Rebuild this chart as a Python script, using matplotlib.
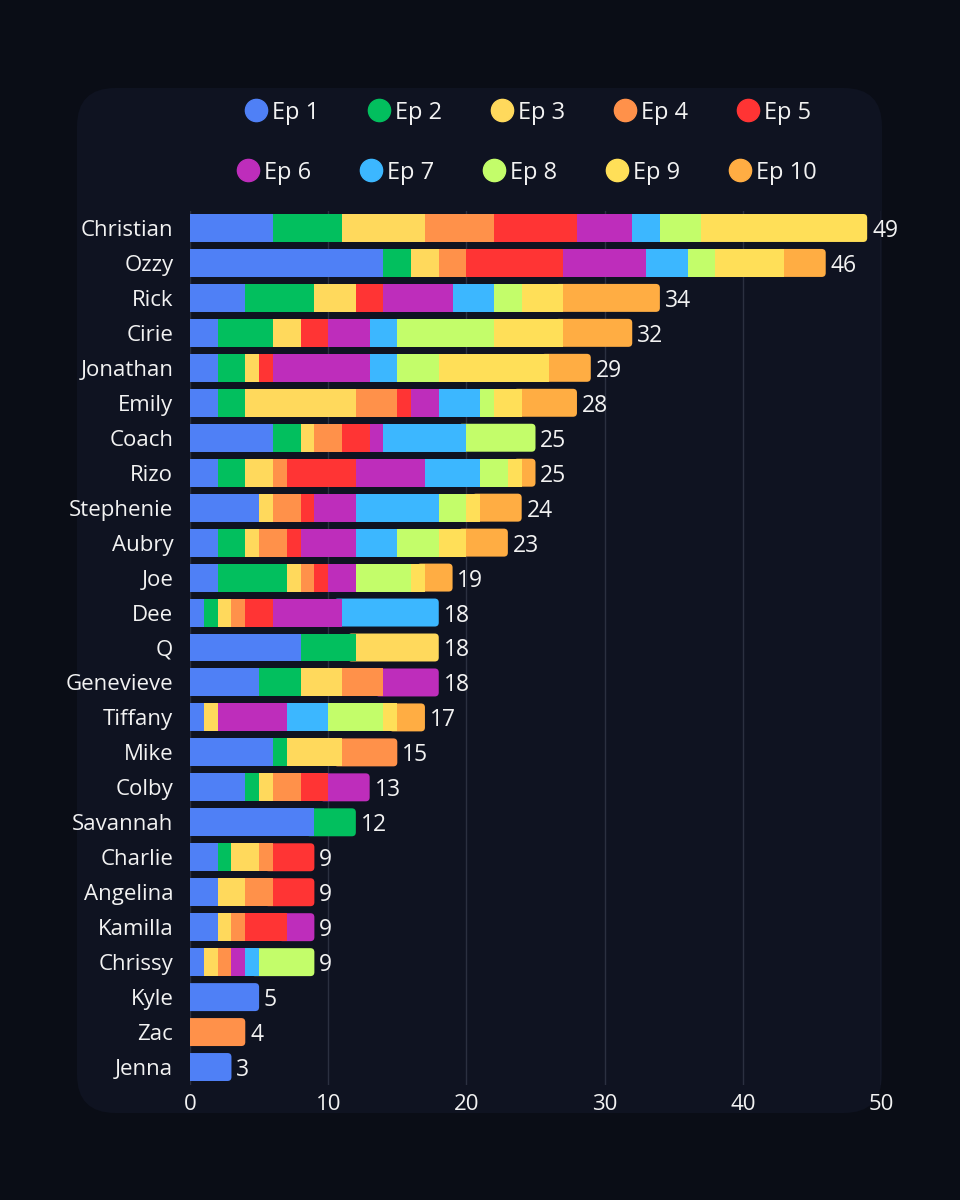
import matplotlib.pyplot as plt
import numpy as np
from matplotlib.patches import FancyBboxPatch
from matplotlib.lines import Line2D

players = ['Christian', 'Ozzy', 'Rick', 'Cirie', 'Jonathan', 'Emily', 'Coach', 'Rizo',
           'Stephenie', 'Aubry', 'Joe', 'Dee', 'Q', 'Genevieve', 'Tiffany', 'Mike',
           'Colby', 'Savannah', 'Charlie', 'Angelina', 'Kamilla', 'Chrissy', 'Kyle',
           'Zac', 'Jenna']

episodes = ['Ep 1', 'Ep 2', 'Ep 3', 'Ep 4', 'Ep 5', 'Ep 6', 'Ep 7', 'Ep 8', 'Ep 9', 'Ep 10']

ep1 = [6, 14, 4, 2, 2, 2, 6, 2, 5, 2, 2, 1, 8, 5, 1, 6, 4, 9, 2, 2, 2, 1, 5, 0, 3]
ep2 = [5, 2, 5, 4, 2, 2, 2, 2, 0, 2, 5, 1, 4, 3, 0, 1, 1, 3, 1, 0, 0, 0, 0, 0, 0]
ep3 = [6, 2, 3, 2, 1, 8, 1, 2, 1, 1, 1, 1, 6, 3, 1, 4, 1, 0, 2, 2, 1, 1, 0, 0, 0]
ep4 = [5, 2, 0, 0, 0, 3, 2, 1, 2, 2, 1, 1, 0, 3, 0, 4, 2, 0, 1, 2, 1, 1, 0, 4, 0]
ep5 = [6, 7, 2, 2, 1, 1, 2, 5, 1, 1, 1, 2, 0, 0, 0, 0, 2, 0, 3, 3, 3, 0, 0, 0, 0]
ep6 = [4, 6, 5, 3, 7, 2, 1, 5, 3, 4, 2, 5, 0, 4, 5, 0, 3, 0, 0, 0, 2, 1, 0, 0, 0]
ep7 = [2, 3, 3, 2, 2, 3, 6, 4, 6, 3, 0, 7, 0, 0, 3, 0, 0, 0, 0, 0, 0, 1, 0, 0, 0]
ep8 = [3, 2, 2, 7, 3, 1, 5, 2, 2, 3, 4, 0, 0, 0, 4, 0, 0, 0, 0, 0, 0, 4, 0, 0, 0]
ep9 = [12, 5, 3, 5, 8, 2, 0, 1, 1, 2, 1, 0, 0, 0, 1, 0, 0, 0, 0, 0, 0, 0, 0, 0, 0]
ep10 = [0, 3, 7, 5, 3, 4, 0, 1, 3, 3, 2, 0, 0, 0, 2, 0, 0, 0, 0, 0, 0, 0, 0, 0, 0]

colors = ['#4f80f6', '#02bf5e', '#ffd95c', '#ff914a', '#ff3434',
          '#be2dbb', '#3cb7ff', '#c3fd6a', '#ffdf58', '#ffad43']

series = [ep1, ep2, ep3, ep4, ep5, ep6, ep7, ep8, ep9, ep10]

BG = '#0a0d16'
PANEL = '#0f1321'
TXT = '#f2f2f2'

plt.rcParams['font.family'] = ['Open Sans', 'DejaVu Sans']

fig = plt.figure(figsize=(9.6, 12), dpi=100)
fig.patch.set_facecolor(BG)

# rounded panel behind the chart
panel = FancyBboxPatch((77 / 960, 1 - 1113 / 1200), (882 - 77) / 960, (1113 - 88) / 1200,
                       boxstyle='round,pad=0,rounding_size=0.04', mutation_aspect=0.8,
                       transform=fig.transFigure, facecolor=PANEL, edgecolor='none', zorder=-5)
fig.patches.append(panel)

ax = fig.add_axes([190 / 960, 1 - 1084.5 / 1200, 691 / 960, 874 / 1200])
ax.set_facecolor('none')
ax.set_zorder(2)

y = np.arange(len(players))
data = np.array(series)
totals = data.sum(axis=0)
h = 0.8

# px per data unit, for rounding the bar ends
xpx = 691 / 50
ypx = 874 / 25
r = 4 / xpx

left = np.zeros(len(players))
for i, vals in enumerate(series):
    vals = np.array(vals)
    for j in range(len(players)):
        if vals[j] == 0:
            continue
        is_last = left[j] + vals[j] == totals[j]
        if is_last:
            start = left[j] - 0.6 if left[j] > 0 else -1
            p = FancyBboxPatch((start, j - h / 2), left[j] + vals[j] - start, h,
                               boxstyle=f'round,pad=0,rounding_size={r}',
                               mutation_aspect=xpx / ypx,
                               facecolor=colors[i], edgecolor='none', zorder=2)
            ax.add_patch(p)
        else:
            ax.barh(j, vals[j], left=left[j], height=h, color=colors[i],
                    edgecolor='none', zorder=3)
    left += vals

for j, t in enumerate(totals):
    ax.text(t + 0.35, j, str(t), va='center_baseline', ha='left', color=TXT,
            fontsize=16.5, zorder=4)

ax.set_xlim(0, 50)
ax.set_ylim(len(players) - 0.5, -0.5)
ax.set_yticks(y)
ax.set_yticklabels(players)
ax.set_xticks([0, 10, 20, 30, 40, 50])
ax.tick_params(axis='both', length=0, colors=TXT, labelsize=16)
ax.tick_params(axis='y', pad=12)
ax.tick_params(axis='x', pad=7)
for s in ax.spines.values():
    s.set_visible(False)
ax.grid(axis='x', color='#2b3040', linewidth=1, zorder=0)
ax.set_axisbelow(True)

# legend, two centred rows
rows = [(0, 5, 110, 256), (5, 10, 170, 248)]
for a, b, ypos, x0 in rows:
    for k in range(a, b):
        xc = x0 + (k - a) * 123
        fig.add_artist(Line2D([xc / 960], [1 - ypos / 1200], marker='o', markersize=16,
                              color=colors[k], linestyle='none', transform=fig.transFigure))
        fig.text((xc + 16) / 960, 1 - ypos / 1200, episodes[k], color=TXT, fontsize=17,
                 va='center_baseline', ha='left')

fig.savefig('out.png', facecolor=BG)
